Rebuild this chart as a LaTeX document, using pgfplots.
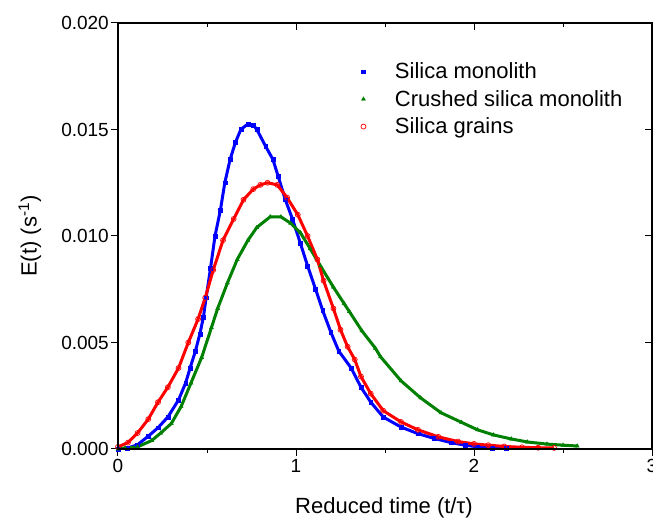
\documentclass[border=0pt]{standalone}
\usepackage{pgfplots}
\usepackage{pgfplotstable}
\pgfplotsset{compat=1.18}
\usepackage{fontspec}
\setmainfont{Liberation Sans}
\usetikzlibrary{calc}

\definecolor{cblue}{RGB}{0,0,255}
\definecolor{cgreen}{RGB}{0,128,0}
\definecolor{cred}{RGB}{255,0,0}

\pgfplotstableread{
x y
0.00 0.00000
0.05 0.00003
0.11 0.00020
0.17 0.00060
0.225 0.00100
0.28 0.00150
0.34 0.00230
0.38 0.00310
0.405 0.00380
0.435 0.00460
0.46 0.00540
0.48 0.00620
0.495 0.00710
0.52 0.00850
0.545 0.01000
0.575 0.01120
0.60 0.01250
0.63 0.01360
0.66 0.01440
0.69 0.01500
0.73 0.01526
0.76 0.01520
0.78 0.01500
0.83 0.01420
0.87 0.01360
0.90 0.01280
0.94 0.01170
0.98 0.01080
1.025 0.00965
1.065 0.00860
1.11 0.00750
1.15 0.00650
1.195 0.00550
1.24 0.00460
1.31 0.00380
1.365 0.00290
1.42 0.00220
1.49 0.00150
1.59 0.00103
1.685 0.00072
1.775 0.00050
1.87 0.00030
1.95 0.00018
2.02 0.00010
2.10 0.00005
2.18 0.00002
}\tblue

\pgfplotstableread{
x y
0.00 0.00000
0.04 0.00005
0.11 0.00010
0.19 0.00040
0.24 0.00075
0.30 0.00120
0.355 0.00200
0.41 0.00310
0.47 0.00430
0.525 0.00570
0.56 0.00660
0.615 0.00780
0.67 0.00890
0.73 0.00980
0.78 0.01040
0.855 0.01090
0.915 0.01090
0.97 0.01060
1.025 0.01015
1.08 0.00940
1.137 0.00860
1.21 0.00760
1.27 0.00683
1.30 0.00645
1.37 0.00555
1.446 0.00473
1.475 0.00433
1.59 0.00320
1.70 0.00240
1.815 0.00170
1.93 0.00125
2.02 0.00090
2.11 0.00066
2.21 0.00047
2.30 0.00033
2.41 0.00023
2.50 0.00018
2.58 0.00014
}\tgreen

\pgfplotstableread{
x y
0.00 0.00010
0.056 0.00030
0.11 0.00075
0.17 0.00140
0.225 0.00220
0.28 0.00290
0.34 0.00380
0.395 0.00500
0.45 0.00610
0.49 0.00710
0.535 0.00840
0.59 0.00980
0.65 0.01080
0.705 0.01170
0.76 0.01220
0.80 0.01240
0.84 0.01250
0.895 0.01240
0.95 0.01180
1.01 0.01100
1.065 0.01000
1.12 0.00890
1.155 0.00790
1.21 0.00660
1.25 0.00560
1.29 0.00480
1.33 0.00420
1.365 0.00340
1.42 0.00260
1.49 0.00180
1.59 0.00127
1.685 0.00090
1.80 0.00057
1.91 0.00035
2.00 0.00024
2.08 0.00018
2.17 0.00012
2.27 0.00008
2.36 0.00006
2.45 0.00005
}\tred

\begin{document}
\begin{tikzpicture}
\begin{axis}[
  scale only axis,
  width=534pt, height=426pt,
  xmin=0, xmax=3, ymin=0, ymax=0.020,
  xtick={0,1,2,3},
  minor x tick num=1,
  ytick={0,0.005,0.010,0.015,0.020},
  scaled y ticks=false,
  yticklabel style={inner xsep=2pt, /pgf/number format/.cd, fixed, fixed zerofill, precision=3},
  /pgf/number format/assume math mode=true,
  tick label style={font=\fontsize{19}{22}\selectfont},
  xtick pos=left, ytick pos=left,
  tick align=outside,
  major tick length=7pt, minor tick length=4pt,
  tick style={line width=1pt, black},
  axis line style={line width=1.2pt},
  xlabel={Reduced time (t/τ)},
  ylabel={E(t) (s\textsuperscript{-1})},
  label style={font=\fontsize{22}{26}\selectfont},
  xlabel style={at={(axis description cs:0.498,-0.1385)}, anchor=center},
  ylabel style={at={(axis description cs:-0.165,0.5)}, anchor=center},
  legend style={draw=none, fill=none, at={(axis description cs:0.449,0.916)}, anchor=north west,
    font=\fontsize{22}{27}\selectfont, row sep=6pt,
    /tikz/every odd column/.append style={column sep=27pt}},
  legend cell align=left,
]
\addplot[cblue, line width=3pt, line join=round, forget plot] table {\tblue};
\addplot[cblue, only marks, mark=square*, mark size=1.9pt] table {\tblue};
\addlegendentry{Silica monolith}
\addplot[cgreen, line width=3pt, line join=round, forget plot] table {\tgreen};
\addplot[cgreen, only marks, mark=triangle*, mark size=2.3pt] table {\tgreen};
\addlegendentry{Crushed silica monolith}
\addplot[cred, line width=3pt, line join=round, forget plot] table {\tred};
\addplot[cred, only marks, mark=o, mark size=2.5pt, mark options={line width=0.7pt, fill=white}] table {\tred};
\addlegendentry{Silica grains}
\end{axis}
\begin{axis}[
  scale only axis,
  width=534pt, height=426pt,
  xmin=0, xmax=3, ymin=0, ymax=0.020,
  xtick={0,1,2,3},
  minor x tick num=1,
  ytick={0,0.005,0.010,0.015,0.020},
  scaled y ticks=false,
  xticklabels={}, yticklabels={},
  xtick pos=right, ytick pos=right,
  tick align=inside,
  major tick length=7pt, minor tick length=4pt,
  tick style={line width=1pt, black},
  axis line style={line width=1.2pt},
]
\end{axis}
\path (current axis.south west) ++(-118pt,-69pt) coordinate (bbA);
\path (current axis.north east) ++(1pt,23pt) coordinate (bbB);
\pgfresetboundingbox
\useasboundingbox (bbA) rectangle (bbB);
\end{tikzpicture}
\end{document}
